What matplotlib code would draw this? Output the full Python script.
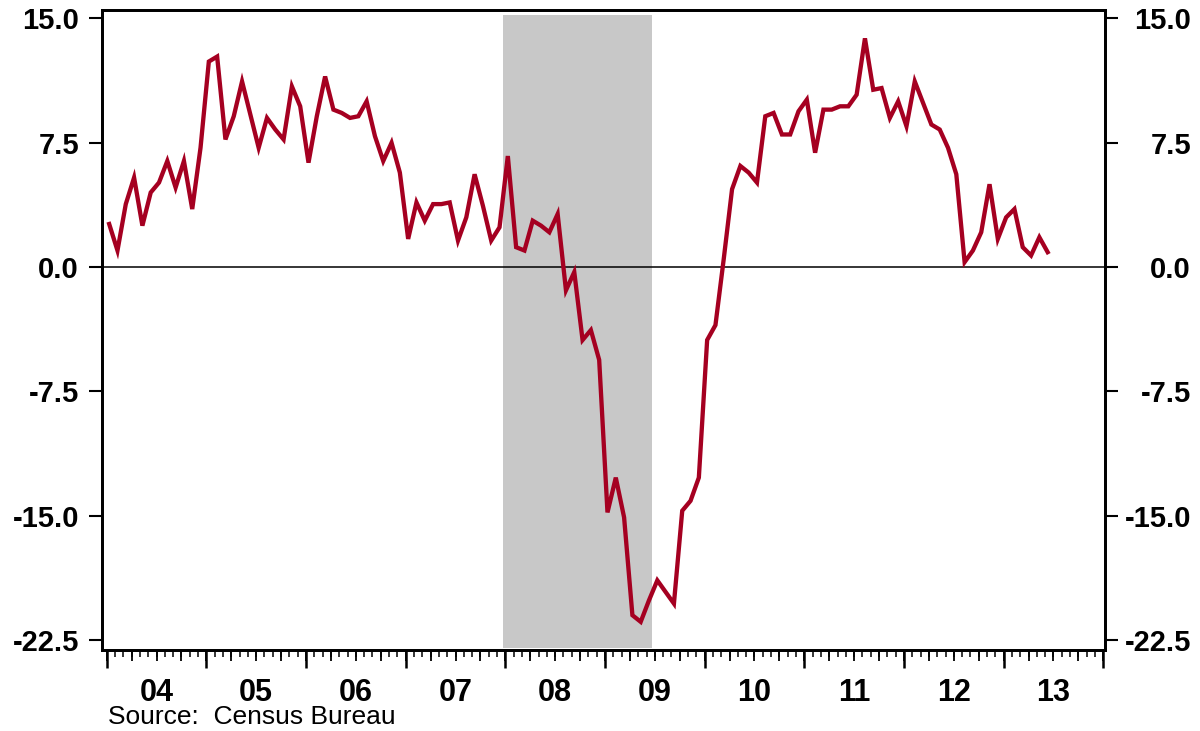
import numpy as np
import pandas as pd
import matplotlib
matplotlib.use("Agg")
from matplotlib import pyplot as plt

plt.rcParams['font.family'] = 'Liberation Sans'

# monthly series, Jan 2004 - Jun 2013 (yoy % change)
start_month = '2004-01'
values = [2.6, 1.0, 3.8, 5.4, 2.5, 4.5, 5.1, 6.4, 4.8, 6.4, 3.5, 7.2,
          12.4, 12.7, 7.7, 9.1, 11.2, 9.2, 7.2, 9.0, 8.3, 7.7, 10.9, 9.7,
          6.3, 9.1, 11.5, 9.5, 9.3, 9.0, 9.1, 10.0, 7.9, 6.4, 7.5, 5.7,
          1.7, 3.9, 2.8, 3.8, 3.8, 3.9, 1.6, 3.0, 5.6, 3.7, 1.6, 2.4,
          6.7, 1.2, 1.0, 2.8, 2.5, 2.1, 3.2, -1.4, -0.3, -4.4, -3.8, -5.6,
          -14.8, -12.7, -15.1, -21.0, -21.4, -20.1, -18.9, -19.6, -20.3, -14.7, -14.1, -12.7,
          -4.4, -3.5, 0.5, 4.7, 6.1, 5.7, 5.1, 9.1, 9.3, 8.0, 8.0, 9.4,
          10.1, 6.9, 9.5, 9.5, 9.7, 9.7, 10.4, 13.8, 10.7, 10.8, 9.0, 10.0,
          8.5, 11.2, 9.9, 8.6, 8.3, 7.2, 5.6, 0.3, 1.0, 2.1, 5.0, 1.7,
          3.0, 3.5, 1.2, 0.7, 1.8, 0.9]

recession = (2007.977, 2009.469)
years = list(range(2004, 2015))
year_labels = ['04', '05', '06', '07', '08', '09', '10', '11', '12', '13']
yticks = [15.0, 7.5, 0.0, -7.5, -15.0, -22.5]
ytick_labels = ['15.0', '7.5', '0.0', '-7.5', '-15.0', '-22.5']

months = pd.period_range(start_month, periods=len(values), freq='M')
# points sit a little after the start of each month
x = months.year + (months.month - 1 + 0.3) / 12.0

red = '#A50021'

fig = plt.figure(figsize=(12, 7.31), dpi=100)
ax = fig.add_axes([102 / 1200, 1 - 650 / 731, (1105 - 102) / 1200, (650 - 10) / 731])

ax.axvspan(recession[0], recession[1], ymin=0.003, ymax=0.992, color='#C8C8C8', lw=0, zorder=0)
ax.axhline(0, color='black', lw=1.1, zorder=1)
ax.plot(x, values, color=red, lw=3.1, zorder=3, solid_joinstyle='miter')

ax.set_xlim(2003.953, 2014.017)
ax.set_ylim(-23.1, 15.51)

for s in ax.spines.values():
    s.set_linewidth(2.0)

# year ticks (long) and month ticks (short)
ax.set_xticks(years, [''] * len(years))
ax.set_xticks(np.arange(2004, 2014.01, 1 / 12), minor=True)
ax.tick_params(axis='x', which='major', direction='out', length=13, width=1.8)
ax.tick_params(axis='x', which='minor', direction='out', length=5, width=1.1)

# quarter ticks
quarters = np.arange(2004, 2014.01, 0.25)
sec_q = ax.secondary_xaxis('bottom')
sec_q.set_xticks(quarters, [''] * len(quarters))
sec_q.tick_params(length=8, width=1.3)
sec_q.spines['bottom'].set_visible(False)

# year labels at mid-year
sec_l = ax.secondary_xaxis('bottom')
sec_l.set_xticks([y + 0.5 for y in years[:-1]], year_labels)
sec_l.tick_params(length=0, pad=20, labelsize=22)
sec_l.spines['bottom'].set_visible(False)
for lbl in sec_l.get_xticklabels():
    lbl.set_fontweight('bold')

# left y axis
ax.set_yticks(yticks, ytick_labels)
ax.tick_params(axis='y', direction='out', length=9.5, width=1.5, pad=7, labelsize=21)
for lbl in ax.get_yticklabels():
    lbl.set_fontweight('bold')

# right y axis, labels right-aligned
ax2 = ax.twinx()
ax2.set_ylim(ax.get_ylim())
ax2.set_yticks(yticks, ytick_labels)
ax2.tick_params(axis='y', direction='out', length=9.5, width=1.5, pad=52.5, labelsize=21)
for lbl in ax2.get_yticklabels():
    lbl.set_fontweight('bold')
    lbl.set_horizontalalignment('right')
for s in ax2.spines.values():
    s.set_linewidth(2.0)

fig.text(108 / 1200, 7 / 731, 'Source:  Census Bureau', fontsize=19, va='baseline', ha='left')

fig.savefig('out.png', dpi=100)
